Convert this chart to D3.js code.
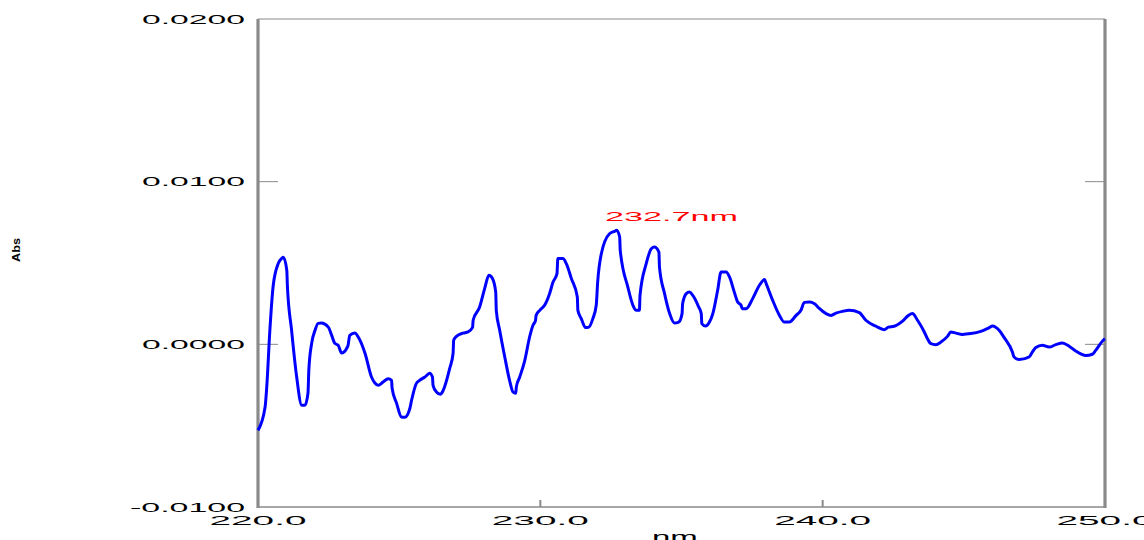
<!DOCTYPE html>
<html>
<head>
<meta charset="utf-8">
<script src="https://cdn.jsdelivr.net/npm/d3@7"></script>
<style>
  html, body { margin: 0; padding: 0; background: #fff; overflow: hidden; }
  svg { display: block; }
  text { font-family: "Liberation Sans", Arial, sans-serif; }
</style>
</head>
<body>
<svg id="chart" width="1144" height="540"></svg>
<script>
// ---- data ----
const wavelengths = [
  220.00, 220.25, 220.31, 220.42, 220.54, 220.72, 220.84, 220.90, 221.02, 221.04,
  221.19, 221.37, 221.55, 221.66, 221.77, 221.80, 221.90, 222.02, 222.13, 222.25,
  222.49, 222.61, 222.72, 222.84, 222.96, 223.14, 223.19, 223.25, 223.43, 223.55,
  223.79, 224.02, 224.14, 224.26, 224.43, 224.61, 224.73, 224.75, 224.91, 225.08,
  225.20, 225.38, 225.44, 225.61, 225.73, 225.91, 226.08, 226.18, 226.20, 226.32,
  226.46, 226.56, 226.79, 226.91, 226.93, 227.03, 227.26, 227.44, 227.60, 227.62,
  227.85, 228.03, 228.18, 228.30, 228.42, 228.44, 228.56, 228.74, 228.91, 229.03,
  229.13, 229.15, 229.27, 229.45, 229.62, 229.74, 229.83, 229.85, 229.98, 230.15,
  230.33, 230.45, 230.59, 230.62, 230.80, 230.92, 231.10, 231.31, 231.33, 231.45,
  231.60, 231.72, 231.86, 231.98, 232.03, 232.16, 232.45, 232.63, 232.70, 232.81,
  232.83, 233.10, 233.28, 233.40, 233.51, 233.53, 233.75, 233.93, 234.04, 234.20,
  234.22, 234.40, 234.58, 234.75, 234.90, 235.02, 235.04, 235.17, 235.28, 235.40,
  235.61, 235.70, 235.72, 235.85, 235.99, 236.11, 236.28, 236.40, 236.58, 236.70,
  236.87, 236.99, 237.11, 237.15, 237.29, 237.52, 237.76, 237.94, 238.00, 238.23,
  238.47, 238.64, 238.82, 239.06, 239.23, 239.35, 239.53, 239.71, 239.88, 240.12,
  240.30, 240.47, 240.71, 240.94, 241.30, 241.53, 241.89, 242.18, 242.33, 242.53,
  242.83, 243.04, 243.18, 243.36, 243.60, 243.71, 243.83, 244.01, 244.19, 244.42,
  244.54, 244.72, 244.95, 245.25, 245.60, 245.90, 246.01, 246.25, 246.43, 246.72,
  246.78, 246.96, 247.31, 247.43, 247.55, 247.78, 248.02, 248.26, 248.49, 248.73,
  248.96, 249.32, 249.55, 249.67, 249.96, 250.00
];
const absorbance = [
  -0.00529, -0.00387, -0.00262, 0.00086, 0.00363, 0.00498, 0.00529, 0.00535, 0.00455, 0.00363,
  0.00086, -0.00201, -0.00375, -0.00375, -0.00301, -0.00160, 0.00006, 0.00086, 0.00129, 0.00131,
  0.00106, 0.00055, 0.00006, -0.00006, -0.00053, -0.00025, -0.00006, 0.00055, 0.00069, 0.00045,
  -0.00055, -0.00201, -0.00238, -0.00252, -0.00232, -0.00211, -0.00221, -0.00270, -0.00363, -0.00447,
  -0.00449, -0.00393, -0.00344, -0.00240, -0.00221, -0.00201, -0.00178, -0.00201, -0.00252, -0.00293,
  -0.00307, -0.00283, -0.00148, -0.00055, 0.00025, 0.00049, 0.00069, 0.00076, 0.00104, 0.00148,
  0.00229, 0.00344, 0.00424, 0.00406, 0.00321, 0.00209, 0.00086, -0.00078, -0.00221, -0.00293,
  -0.00301, -0.00262, -0.00201, -0.00098, 0.00045, 0.00117, 0.00148, 0.00178, 0.00209, 0.00240,
  0.00313, 0.00383, 0.00435, 0.00527, 0.00527, 0.00496, 0.00404, 0.00291, 0.00209, 0.00158,
  0.00103, 0.00106, 0.00158, 0.00240, 0.00381, 0.00557, 0.00680, 0.00695, 0.00701, 0.00660,
  0.00578, 0.00352, 0.00240, 0.00209, 0.00209, 0.00301, 0.00496, 0.00588, 0.00598, 0.00567,
  0.00475, 0.00312, 0.00189, 0.00131, 0.00137, 0.00189, 0.00250, 0.00312, 0.00321, 0.00301,
  0.00229, 0.00189, 0.00127, 0.00112, 0.00137, 0.00189, 0.00332, 0.00444, 0.00444, 0.00414,
  0.00321, 0.00260, 0.00240, 0.00219, 0.00219, 0.00281, 0.00363, 0.00398, 0.00373, 0.00270,
  0.00178, 0.00137, 0.00137, 0.00178, 0.00209, 0.00258, 0.00260, 0.00250, 0.00221, 0.00189,
  0.00178, 0.00192, 0.00203, 0.00209, 0.00195, 0.00148, 0.00111, 0.00090, 0.00106, 0.00111,
  0.00143, 0.00178, 0.00189, 0.00148, 0.00076, 0.00035, 0.00004, -0.00002, 0.00014, 0.00049,
  0.00076, 0.00069, 0.00061, 0.00066, 0.00080, 0.00103, 0.00112, 0.00086, 0.00041, -0.00047,
  -0.00078, -0.00094, -0.00078, -0.00047, -0.00020, -0.00006, -0.00017, -0.00002, 0.00008, -0.00012,
  -0.00041, -0.00069, -0.00061, -0.00037, 0.00029, 0.00034
];
const yTicks = [-0.01, 0.0, 0.01, 0.02];
const yTickLabels = ["-0.0100", "0.0000", "0.0100", "0.0200"];
const xTicks = [220, 230, 240, 250];
const xTickLabels = ["220.0", "230.0", "240.0", "250.0"];
const peakWavelength = 232.7;
const peakLabel = "232.7nm";
const xTitle = "nm.";
const yTitle = "Abs";

// ---- layout ----
const L = 258, R = 1105, T = 19, B = 507;
const svg = d3.select("#chart");
const x = d3.scaleLinear().domain([220, 250]).range([L, R]);
const y = d3.scaleLinear().domain([-0.01, 0.02]).range([B, T]);
const frame = "#8a8a8a";

// frame
svg.append("line").attr("x1", L).attr("x2", R).attr("y1", T).attr("y2", T)
  .attr("stroke", frame).attr("stroke-width", 1.2);
svg.append("line").attr("x1", L).attr("x2", R).attr("y1", B).attr("y2", B)
  .attr("stroke", frame).attr("stroke-width", 1.5);

// y ticks (inward on both sides)
const innerY = yTicks.filter(v => v > -0.01 && v < 0.02);
svg.selectAll("line.ytl").data(innerY).enter().append("line")
  .attr("x1", L).attr("x2", L + 20).attr("y1", d => y(d)).attr("y2", d => y(d))
  .attr("stroke", frame).attr("stroke-width", 1);
svg.selectAll("line.ytr").data(innerY).enter().append("line")
  .attr("x1", R - 20).attr("x2", R).attr("y1", d => y(d)).attr("y2", d => y(d))
  .attr("stroke", frame).attr("stroke-width", 1);

// x ticks (inward from bottom)
const innerX = xTicks.filter(v => v > 220 && v < 250);
svg.selectAll("line.xt").data(innerX).enter().append("line")
  .attr("x1", d => x(d)).attr("x2", d => x(d)).attr("y1", B).attr("y2", B - 7)
  .attr("stroke", frame).attr("stroke-width", 2);

// side axes thick
svg.append("line").attr("x1", L).attr("x2", L).attr("y1", T).attr("y2", B + 1)
  .attr("stroke", frame).attr("stroke-width", 3.2);
svg.append("line").attr("x1", R).attr("x2", R).attr("y1", T).attr("y2", B + 1)
  .attr("stroke", frame).attr("stroke-width", 3.2);

// y tick labels
svg.selectAll("text.yl").data(yTicks).enter().append("text")
  .attr("x", 245).attr("y", d => y(d) + 4.5)
  .attr("text-anchor", "end")
  .attr("font-size", 13)
  .attr("textLength", (d, i) => yTickLabels[i].length === 7 ? 115 : 103)
  .attr("lengthAdjust", "spacingAndGlyphs")
  .attr("fill", "#000")
  .text((d, i) => yTickLabels[i]);

// x tick labels
svg.selectAll("text.xl").data(xTicks).enter().append("text")
  .attr("x", d => x(d)).attr("y", 525)
  .attr("text-anchor", "middle")
  .attr("font-size", 13)
  .attr("textLength", 97)
  .attr("lengthAdjust", "spacingAndGlyphs")
  .attr("fill", "#000")
  .text((d, i) => xTickLabels[i]);

// axis titles
svg.append("text").attr("x", (L + R) / 2 - 2).attr("y", 543)
  .attr("text-anchor", "middle").attr("font-size", 17)
  .attr("textLength", 55).attr("lengthAdjust", "spacingAndGlyphs")
  .attr("fill", "#000").text(xTitle);
svg.append("text")
  .attr("transform", "translate(20,250) rotate(-90)")
  .attr("text-anchor", "middle").attr("font-size", 11).attr("font-weight", "bold")
  .attr("textLength", 24).attr("lengthAdjust", "spacingAndGlyphs")
  .attr("fill", "#000").text(yTitle);

// spectrum line
const pts = wavelengths.map((w, i) => [w, absorbance[i]]);
const line = d3.line().x(d => x(d[0])).y(d => y(d[1])).curve(d3.curveMonotoneX);
svg.append("path").datum(pts)
  .attr("d", line)
  .attr("fill", "none")
  .attr("stroke", "#0000ff")
  .attr("stroke-width", 3)
  .attr("stroke-linejoin", "round");

// peak label
const pi = wavelengths.indexOf(peakWavelength);
svg.append("text")
  .attr("x", x(peakWavelength) + 55).attr("y", y(absorbance[pi]) - 9)
  .attr("text-anchor", "middle").attr("font-size", 13)
  .attr("textLength", 133).attr("lengthAdjust", "spacingAndGlyphs")
  .attr("fill", "#ff0000").text(peakLabel);
</script>
</body>
</html>
